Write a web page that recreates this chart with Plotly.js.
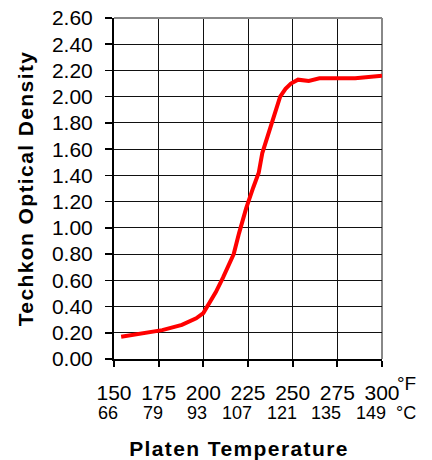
<!DOCTYPE html>
<html>
<head>
<meta charset="utf-8">
<script src="https://cdn.plot.ly/plotly-3.0.1.min.js"></script>
<style>
html,body{margin:0;padding:0;background:#fff;}
#chart{width:432px;height:460px;}
.xtitle,.ytitle{letter-spacing:1.4px;}
.xtitle{transform:translateX(-9px);}
</style>
</head>
<body>
<div id="chart"></div>
<script>
// Data
const tempF = [154,177,188,196,200,203,207,211,217,220,224,228,231,233,237,240,243,246,249,253,259,265,285,300];
const density = [0.17,0.22,0.26,0.31,0.35,0.42,0.51,0.62,0.80,0.96,1.15,1.31,1.42,1.57,1.75,1.86,2.00,2.06,2.10,2.13,2.12,2.14,2.14,2.16];
const tickF = [150,175,200,225,250,275,300];
const tickC = ['66','79','93','107','121','135','149'];
const yTicks = [0,0.2,0.4,0.6,0.8,1.0,1.2,1.4,1.6,1.8,2.0,2.2,2.4,2.6];

const FONT = '"Liberation Sans", Arial, sans-serif';

const trace = {
  x: tempF, y: density, type: 'scatter', mode: 'lines',
  line: {color: '#ff0000', width: 4}, hoverinfo: 'skip'
};

const annotations = tickF.map((f, i) => ({
  x: f, xref: 'x', y: 0, yref: 'paper', yanchor: 'top', xanchor: 'right',
  yshift: -42, xshift: 6, text: tickC[i], showarrow: false,
  font: {family: FONT, size: 18, color: '#000'}
}));
annotations.push({
  x: 1, xref: 'paper', y: 0, yref: 'paper', xanchor: 'left', yanchor: 'top',
  xshift: 12, yshift: -42, text: '°C', showarrow: false,
  font: {family: FONT, size: 18, color: '#000'}
});
annotations.push({
  x: 1, xref: 'paper', y: 0, yref: 'paper', xanchor: 'left', yanchor: 'top',
  xshift: 13, yshift: -12, text: '°F', showarrow: false,
  font: {family: FONT, size: 19, color: '#000'}
});

const layout = {
  width: 432, height: 460,
  margin: {l: 114, r: 50, t: 18, b: 101},
  paper_bgcolor: '#fff', plot_bgcolor: '#fff',
  showlegend: false,
  font: {family: FONT, color: '#000'},
  xaxis: {
    range: [150, 300], tickvals: tickF, ticktext: tickF.map(String),
    ticks: 'outside', ticklen: 6, tickwidth: 2, tickcolor: '#000',
    showline: true, linecolor: '#000', linewidth: 2,
    showgrid: true, gridcolor: '#111', gridwidth: 1,
    zeroline: false,
    tickfont: {family: FONT, size: 21, color: '#000'},
    ticklabelstandoff: 8,
    title: {text: 'Platen Temperature', font: {family: FONT, size: 21, color: '#000', weight: 'bold'}, standoff: 44}
  },
  yaxis: {
    range: [0, 2.6], tickvals: yTicks, tickformat: '.2f',
    ticks: 'outside', ticklen: 7, tickwidth: 1.5, tickcolor: '#000',
    showline: true, linecolor: '#000', linewidth: 2,
    showgrid: true, gridcolor: '#111', gridwidth: 1,
    zeroline: false,
    tickfont: {family: FONT, size: 21, color: '#000'},
    ticklabelstandoff: 8,
    title: {text: 'Techkon Optical Density', font: {family: FONT, size: 21, color: '#000', weight: 'bold'}, standoff: 13}
  },
  shapes: [
    {type: 'line', xref: 'paper', yref: 'paper', x0: 0, x1: 1, y0: 1, y1: 1, line: {color: '#888', width: 2}, layer: 'above'},
    {type: 'line', xref: 'paper', yref: 'paper', x0: 1, x1: 1, y0: 0, y1: 1, line: {color: '#888', width: 2}, layer: 'below'}
  ],
  annotations: annotations
};

Plotly.newPlot('chart', [trace], layout, {staticPlot: true, displayModeBar: false});
</script>
</body>
</html>
